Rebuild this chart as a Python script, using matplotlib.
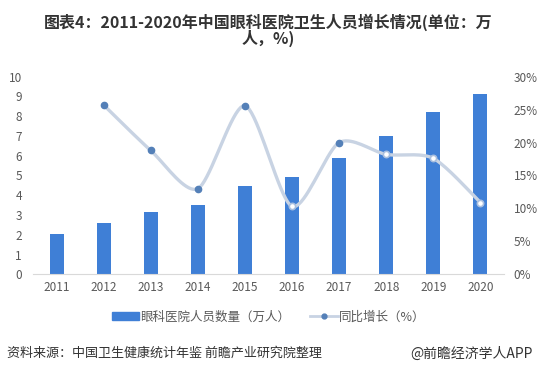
import matplotlib.pyplot as plt
import numpy as np
from matplotlib.lines import Line2D
from matplotlib.patches import Patch

plt.rcParams['font.family'] = ['Noto Sans CJK SC', 'DejaVu Sans']

years = ['2011', '2012', '2013', '2014', '2015', '2016', '2017', '2018', '2019', '2020']
staff = [2.06, 2.62, 3.13, 3.53, 4.45, 4.92, 5.87, 6.98, 8.20, 9.10]
growth_years = ['2012', '2013', '2014', '2015', '2016', '2017', '2018', '2019', '2020']
growth = [25.7, 18.8, 13.0, 25.6, 10.3, 20.0, 18.2, 17.6, 10.9]
hollow = ['2016', '2018', '2019', '2020']


def smooth(x, y, n=20, k=0.4):
    # cardinal spline through the points, only for drawing the line
    x = np.asarray(x, float)
    y = np.asarray(y, float)
    px = np.concatenate([[x[0]], x, [x[-1]]])
    py = np.concatenate([[y[0]], y, [y[-1]]])
    xs, ys = [], []
    t = np.linspace(0, 1, n)
    h00 = 2 * t ** 3 - 3 * t ** 2 + 1
    h10 = t ** 3 - 2 * t ** 2 + t
    h01 = -2 * t ** 3 + 3 * t ** 2
    h11 = t ** 3 - t ** 2
    for i in range(1, len(px) - 2):
        for p, out in ((px, xs), (py, ys)):
            m1 = k * (p[i + 1] - p[i - 1])
            m2 = k * (p[i + 2] - p[i])
            out.extend(h00 * p[i] + h10 * m1 + h01 * p[i + 1] + h11 * m2)
    return np.array(xs), np.array(ys)


fig = plt.figure(figsize=(5.37, 3.76), dpi=100)
ax = fig.add_axes([0.0615, 0.2705, 0.877, 0.5255])
ax2 = ax.twinx()

x = np.arange(len(years))
ax.bar(x, staff, width=0.3, color='#3f7fd6', zorder=2)
ax.set_xlim(-0.5, len(years) - 0.5)
ax.set_ylim(0, 10)
ax.set_yticks(range(0, 11))
ax.set_xticks(x)
ax.set_xticklabels(years)

gx = np.array([years.index(g) for g in growth_years])
sx, sy = smooth(gx, growth)
ax2.plot(sx, sy, color='#c8d3e3', lw=2.4, zorder=3)
for xi, yr, g in zip(gx, growth_years, growth):
    if yr in hollow:
        ax2.plot(xi, g, 'o', ms=4.5, mfc='white', mec='#a9bfdf', mew=1.2, zorder=4)
    else:
        ax2.plot(xi, g, 'o', ms=4.5, mfc='#5480b8', mec='#5480b8', zorder=4)
ax2.set_ylim(0, 30)
ax2.set_yticks(range(0, 31, 5))
ax2.set_yticklabels([f'{v}%' for v in range(0, 31, 5)])

for a in (ax, ax2):
    for s in a.spines.values():
        s.set_visible(False)
    a.tick_params(length=0, labelsize=8.5, colors='#595959')
ax.spines['bottom'].set_visible(True)
ax.spines['bottom'].set_color('#d9d9d9')
ax.tick_params(axis='y', pad=8)
ax.tick_params(axis='x', pad=5)
ax2.tick_params(axis='y', pad=7)

fig.text(0.5, 0.94, '图表4：2011-2020年中国眼科医院卫生人员增长情况(单位：万',
         ha='center', va='center', fontsize=11.5, fontweight='bold', color='#333333')
fig.text(0.5, 0.897, '人，%)', ha='center', va='center', fontsize=11.5,
         fontweight='bold', color='#333333')

handles = [Patch(color='#3f7fd6'),
           Line2D([], [], color='#c8d3e3', lw=2, marker='o', ms=3.5,
                  mfc='#5480b8', mec='#5480b8')]
fig.legend(handles, ['眼科医院人员数量（万人）', '同比增长（%）'],
           loc='center', bbox_to_anchor=(0.5, 0.157), ncol=2, frameon=False,
           fontsize=9, handlelength=2.2, handletextpad=0.1, columnspacing=1.6,
           labelcolor='#595959')

fig.text(0.013, 0.06, '资料来源：中国卫生健康统计年鉴 前瞻产业研究院整理',
         ha='left', va='center', fontsize=9.4, color='#333333')
fig.text(0.992, 0.06, '@前瞻经济学人APP', ha='right', va='center',
         fontsize=10, color='#333333')

fig.savefig('out.png', dpi=100)
